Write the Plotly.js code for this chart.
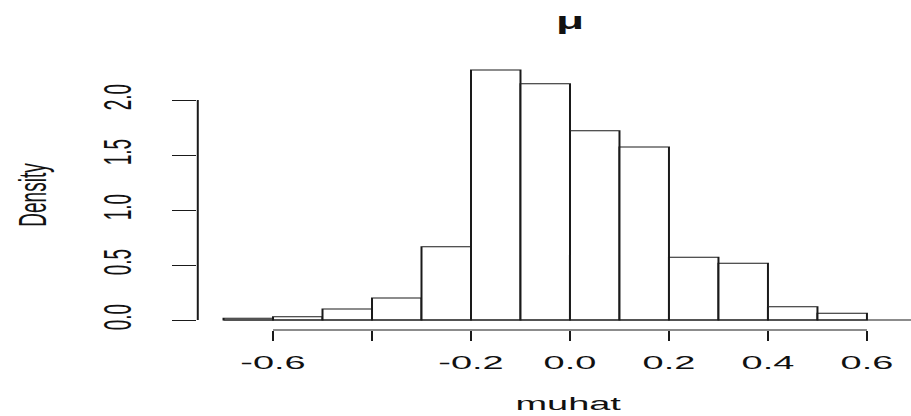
<!DOCTYPE html>
<html><head><meta charset="utf-8">
<script src="https://cdn.plot.ly/plotly-3.0.1.min.js"></script>
<style>
html,body{margin:0;padding:0;overflow:hidden;background:#fff;width:911px;height:416px;}
#wrap{width:456px;height:416px;transform-origin:0 0;transform:scaleX(1.997807);}
</style></head><body>
<div id="wrap"><div id="chart" style="width:456px;height:416px"></div></div>
<script>
const breaks = [-0.7,-0.6,-0.5,-0.4,-0.3,-0.2,-0.1,0.0,0.1,0.2,0.3,0.4,0.5,0.6];
const density = [0.015,0.03,0.1,0.2,0.667,2.273,2.148,1.721,1.573,0.570,0.515,0.121,0.061];
const xTickVals = [-0.6,-0.4,-0.2,0,0.2,0.4,0.6];
const xTickText = ['-0.6','','-0.2','0.0','0.2','0.4','0.6'];
const yTickVals = [0,0.5,1,1.5,2];
const yTickText = ['0.0','0.5','1.0','1.5','2.0'];
const xRange = [-0.752, 0.689];
const yRange = [-0.0909, 2.3636];

const mids = density.map((d,i)=>(breaks[i]+breaks[i+1])/2);
const widths = density.map((d,i)=>breaks[i+1]-breaks[i]);
const FONT = '"Liberation Sans", Arial, sans-serif';

const trace = {
  type:'bar', x:mids, y:density, width:widths,
  marker:{color:'#ffffff', line:{color:'#1a1a1a', width:1}},
  hoverinfo:'skip'
};

const layout = {
  width:456, height:416,
  margin:{l:99, r:0, t:60, b:86, pad:0},
  paper_bgcolor:'#fff', plot_bgcolor:'#fff',
  showlegend:false,
  font:{family:FONT, size:19, color:'#111'},
  title:{text:'<b>μ</b>', font:{family:FONT, size:23, color:'#111'},
         xref:'paper', x:(0-xRange[0])/(xRange[1]-xRange[0]), xanchor:'center',
         yref:'container', y:1-21/416, yanchor:'middle'},
  xaxis:{range:xRange, showgrid:false, zeroline:false, showline:false,
         tickmode:'array', tickvals:xTickVals, ticktext:xTickText,
         ticks:'outside', ticklen:10, tickwidth:1, tickcolor:'#1a1a1a',
         ticklabelstandoff:5, tickfont:{family:FONT, size:19, color:'#111'}},
  yaxis:{range:yRange, showgrid:false, zeroline:false, showline:false,
         tickmode:'array', tickvals:yTickVals, ticktext:yTickText,
         ticks:'outside', ticklen:12, tickwidth:1, tickcolor:'#1a1a1a',
         tickangle:-90, ticklabelstandoff:13,
         tickfont:{family:FONT, size:19, color:'#111'},
         title:{text:'Density', font:{family:FONT, size:19, color:'#111'}, standoff:19}},
  annotations:[{text:'muhat', xref:'x', x:0, yref:'paper', y:-(403-330)/270, yanchor:'middle',
                xanchor:'center', showarrow:false, font:{family:FONT, size:19, color:'#111'}}],
  shapes:[
    {type:'line', xref:'x', x0:breaks[0], x1:xRange[1], yref:'y', y0:0, y1:0,
     line:{color:'#1a1a1a', width:1}},
    {type:'line', xref:'x', x0:xTickVals[0], x1:xTickVals[xTickVals.length-1], yref:'paper', y0:0, y1:0,
     line:{color:'#1a1a1a', width:1}},
    {type:'line', xref:'paper', x0:0, x1:0, yref:'y', y0:yTickVals[0], y1:yTickVals[yTickVals.length-1],
     line:{color:'#1a1a1a', width:1}}
  ]
};

Plotly.newPlot('chart', [trace], layout, {staticPlot:true, displayModeBar:false});
</script></body></html>
